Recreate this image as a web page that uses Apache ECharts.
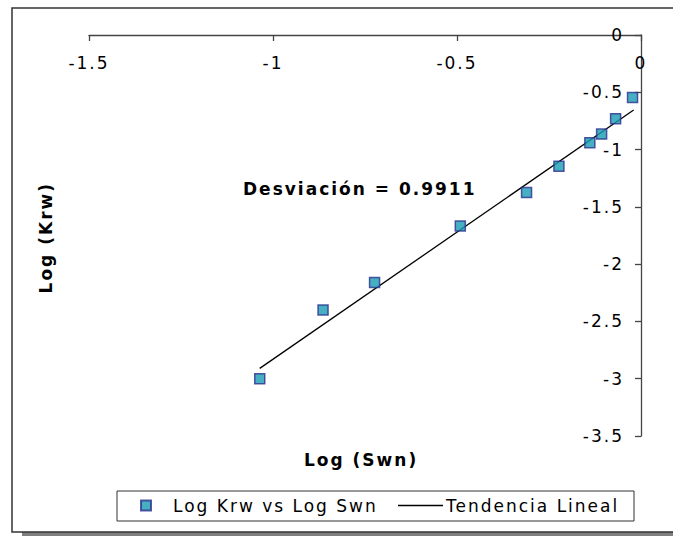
<!DOCTYPE html>
<html>
<head>
<meta charset="utf-8">
<script src="https://cdn.jsdelivr.net/npm/echarts@6/dist/echarts.min.js"></script>
<style>
html, body { margin: 0; padding: 0; background: #fff; }
#main { width: 673px; height: 537px; }
#main text { letter-spacing: 2px; }
</style>
</head>
<body>
<div id="main"></div>
<script>
// Data
const logSwn = [-1.036, -0.864, -0.724, -0.491, -0.311, -0.223, -0.139, -0.107, -0.069, -0.023];
const logKrw = [-3.0, -2.40, -2.16, -1.667, -1.375, -1.145, -0.94, -0.865, -0.73, -0.545];
const trendX = [-1.036, -0.02];
const trendY = [-2.91, -0.655];
const xTicks = [-1.5, -1, -0.5, 0];
const yTicks = [-3.5, -3, -2.5, -2, -1.5, -1, -0.5, 0];
const seriesNames = ['Log Krw vs Log Swn', 'Tendencia Lineal'];
const annotation = 'Desviación = 0.9911';
const xTitle = 'Log (Swn)';
const yTitle = 'Log (Krw)';

const FONT = 'DejaVu Sans';
const chart = echarts.init(document.getElementById('main'), null, { renderer: 'svg' });

const scatterData = logSwn.map((x, i) => [x, logKrw[i]]);
const trendData = trendX.map((x, i) => [x, trendY[i]]);

const axisLineStyle = { color: '#444', width: 1.3 };

chart.setOption({
  animation: false,
  backgroundColor: '#fff',
  grid: { left: 89, top: 35, width: 552, height: 401, containLabel: false },
  xAxis: {
    type: 'value', position: 'top',
    min: xTicks[0], max: xTicks[xTicks.length - 1], interval: 0.5,
    axisLine: { show: true, onZero: false, lineStyle: axisLineStyle },
    axisTick: { show: true, inside: true, length: 6, lineStyle: axisLineStyle },
    axisLabel: { inside: true, margin: 19, color: '#000', fontFamily: FONT, fontSize: 17 },
    splitLine: { show: false }
  },
  yAxis: {
    type: 'value', position: 'right',
    min: yTicks[0], max: yTicks[yTicks.length - 1], interval: 0.5,
    axisLine: { show: true, onZero: false, lineStyle: axisLineStyle },
    axisTick: { show: true, inside: true, length: 6, lineStyle: axisLineStyle },
    axisLabel: { inside: true, margin: 17, color: '#000', fontFamily: FONT, fontSize: 17 },
    splitLine: { show: false }
  },
  legend: [
    {
      data: [{ name: seriesNames[0], icon: 'rect' }],
      left: 140, top: 497, padding: 0,
      itemWidth: 10, itemHeight: 10,
      textStyle: { color: '#000', fontFamily: FONT, fontSize: 17, padding: [0, 0, 0, 17] }
    },
    {
      data: [{ name: seriesNames[1], icon: 'rect' }],
      left: 398, top: 497, padding: 0,
      itemWidth: 45, itemHeight: 1.3, itemGap: 0,
      itemStyle: { color: '#000' },
      textStyle: { color: '#000', fontFamily: FONT, fontSize: 17, padding: [0, 0, 0, -2] }
    }
  ],
  graphic: [
    { type: 'rect', z: -10, silent: true, shape: { x: 22, y: 532, width: 700, height: 4 }, style: { fill: '#808080' } },
    { type: 'rect', z: -9, silent: true, shape: { x: 12, y: 8, width: 700, height: 524 }, style: { fill: '#fff', stroke: '#333', lineWidth: 1.5 } },
    { type: 'rect', z: -8, silent: true, shape: { x: 117, y: 491, width: 517, height: 30 }, style: { fill: '#fff', stroke: '#333', lineWidth: 1 } },
    { type: 'text', left: 243, top: 180, style: { text: annotation, font: 'bold 17px "DejaVu Sans"', fill: '#000' } },
    { type: 'text', left: 304, top: 451, style: { text: xTitle, font: 'bold 17px "DejaVu Sans"', fill: '#000' } },
    { type: 'text', left: 37, top: 200, rotation: Math.PI / 2, style: { text: yTitle, font: 'bold 17px "DejaVu Sans"', fill: '#000' } }
  ],
  series: [
    {
      name: seriesNames[0], type: 'scatter', data: scatterData,
      symbol: 'rect', symbolSize: 10, z: 3,
      itemStyle: { color: '#189CB3', borderColor: '#2B2F8F', borderWidth: 1.5 }
    },
    {
      name: seriesNames[1], type: 'line', data: trendData,
      symbol: 'none', showSymbol: false, z: 2,
      lineStyle: { color: '#000', width: 1.3 }, itemStyle: { color: '#000' }
    }
  ]
});
</script>
</body>
</html>
